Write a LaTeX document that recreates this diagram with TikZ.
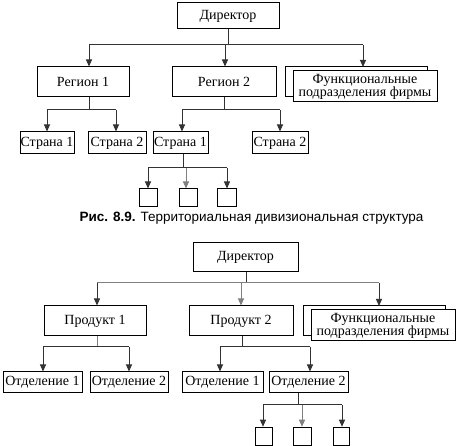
\documentclass[tikz,border=0pt]{standalone}
\usepackage{fontspec}
\setmainfont{Liberation Serif}
\newfontfamily\capfont{Liberation Sans}
\usetikzlibrary{arrows.meta}
\tikzset{
  box/.style={draw=black, line width=1pt, fill=white, inner sep=0pt, align=center, font=\fontsize{14}{14}\selectfont},
  sq/.style={draw=black, line width=1pt, fill=white, inner sep=0pt},
  conn/.style={draw=black!80, line width=1pt},
  arr/.style={conn, -{Triangle[length=7pt,width=6pt]}},
  garr/.style={draw=black!50, line width=1pt, -{Triangle[length=7pt,width=6pt]}},
  gconn/.style={draw=black!50, line width=1pt},
}
\begin{document}
\begin{tikzpicture}[x=1pt,y=-1pt]
\useasboundingbox (0,0) rectangle (456,446);
% ---------- top diagram ----------
\node[box, minimum width=102pt, minimum height=26pt] (dirA) at (228,16) {Директор};
\coordinate (jA) at (228,45);
\coordinate (jAl) at (89,45);
\coordinate (jAm) at (225,45);
\coordinate (jAr) at (363,45);
\node[box, minimum width=92pt, minimum height=30pt] (rA) at (83,82) {Регион 1};
\node[box, minimum width=104pt, minimum height=30pt] (rB) at (224,82) {Регион 2};
\draw[line width=1pt, fill=white] (285,67) rectangle (427,97);
\node[box, minimum width=144pt, minimum height=31pt] (fA) at (365,86.5) {Функциональные\\[-1pt]подразделения фирмы};
\draw[conn] (dirA.south) -- (jA);
\draw[conn] (jAl) -- (jAr);
\draw[arr] (jAl) -- (jAl |- rA.north);
\draw[arr] (jAm) -- (jAm |- rB.north);
\draw[arr] (jAr) -- (363,67);

\node[box, minimum width=54pt, minimum height=22pt] (sA1) at (47,143) {Страна 1};
\node[box, minimum width=58pt, minimum height=22pt] (sA2) at (117,143) {Страна 2};
\node[box, minimum width=55pt, minimum height=22pt] (sB1) at (180.5,143) {Страна 1};
\node[box, minimum width=56pt, minimum height=22pt] (sB2) at (280,143) {Страна 2};
\coordinate (kA) at (89,110);
\coordinate (kAl) at (47,110);
\coordinate (kAr) at (116,110);
\draw[conn] (rA.south -| kA) -- (kA);
\draw[conn] (kAl) -- (kAr);
\draw[arr] (kAl) -- (sA1.north);
\draw[arr] (kAr) -- (kAr |- sA2.north);
\coordinate (kB) at (224,110);
\coordinate (kBl) at (182,110);
\coordinate (kBr) at (280,110);
\draw[conn] (rB.south) -- (kB);
\draw[conn] (kBl) -- (kBr);
\draw[arr] (kBl) -- (kBl |- sB1.north);
\draw[arr] (kBr) -- (sB2.north);

\node[sq, minimum width=18pt, minimum height=18pt] (bA1) at (148,198) {};
\node[sq, minimum width=18pt, minimum height=18pt] (bA2) at (188,198) {};
\node[sq, minimum width=19pt, minimum height=18pt] (bA3) at (226.5,198) {};
\coordinate (mA) at (183,168);
\coordinate (mAl) at (148,168);
\coordinate (mAm) at (186,168);
\coordinate (mAr) at (227,168);
\draw[conn] (sB1.south -| mA) -- (mA);
\draw[conn] (mAl) -- (mAr);
\draw[arr] (mAl) -- (bA1.north);
\draw[garr] (mAm) -- (mAm |- bA2.north);
\draw[arr] (mAr) -- (mAr |- bA3.north);

\node[font=\capfont\fontsize{13.5}{14}\selectfont, inner sep=0pt] (capA) at (251.5,218.5) {\textbf{Рис. 8.9.} Территориальная дивизиональная структура};

% ---------- bottom diagram ----------
\node[box, minimum width=105pt, minimum height=29pt] (dirB) at (245.5,257.5) {Директор};
\coordinate (jB) at (246,283);
\coordinate (jBl) at (97,283);
\coordinate (jBm) at (241,283);
\coordinate (jBr) at (379,283);
\node[box, minimum width=102pt, minimum height=30pt] (pA) at (95,321) {Продукт 1};
\node[box, minimum width=104pt, minimum height=30pt] (pB) at (241,321) {Продукт 2};
\draw[line width=1pt, fill=white] (303,306) rectangle (445,336);
\node[box, minimum width=144pt, minimum height=31pt] (fB) at (383,325.5) {Функциональные\\[-1pt]подразделения фирмы};
\draw[conn] (dirB.south -| jB) -- (jB);
\draw[gconn] (jBl) -- (jBr);
\draw[arr] (jBl) -- (jBl |- pA.north);
\draw[garr] (jBm) -- (pB.north);
\draw[arr] (jBr) -- (379,306);

\node[box, minimum width=79pt, minimum height=21pt] (oA1) at (42.5,382.5) {Отделение 1};
\node[box, minimum width=78pt, minimum height=21pt] (oA2) at (129,382.5) {Отделение 2};
\node[box, minimum width=81pt, minimum height=21pt] (oB1) at (222.5,382.5) {Отделение 1};
\node[box, minimum width=79pt, minimum height=21pt] (oB2) at (308.5,382.5) {Отделение 2};
\coordinate (kC) at (97,347);
\coordinate (kCl) at (43,347);
\coordinate (kCr) at (129,347);
\draw[gconn] (pA.south -| kC) -- (kC);
\draw[conn] (kCl) -- (kCr);
\draw[arr] (kCl) -- (kCl |- oA1.north);
\draw[arr] (kCr) -- (oA2.north);
\coordinate (kD) at (242,347);
\coordinate (kDl) at (220,347);
\coordinate (kDr) at (310,347);
\draw[conn] (pB.south -| kD) -- (kD);
\draw[conn] (kDl) -- (kDr);
\draw[arr] (kDl) -- (kDl |- oB1.north);
\draw[arr] (kDr) -- (kDr |- oB2.north);

\node[sq, minimum width=17pt, minimum height=18.5pt] (cB1) at (263.5,436.5) {};
\node[sq, minimum width=18pt, minimum height=18.5pt] (cB2) at (302,436.5) {};
\node[sq, minimum width=16pt, minimum height=18.5pt] (cB3) at (341,436.5) {};
\coordinate (mB) at (298,405);
\coordinate (mBl) at (263,405);
\coordinate (mBm) at (302,405);
\coordinate (mBr) at (342,405);
\draw[conn] (oB2.south -| mB) -- (mB);
\draw[conn] (mBl) -- (mBr);
\draw[arr] (mBl) -- (mBl |- cB1.north);
\draw[garr] (mBm) -- (cB2.north);
\draw[arr] (mBr) -- (mBr |- cB3.north);
\end{tikzpicture}
\end{document}
